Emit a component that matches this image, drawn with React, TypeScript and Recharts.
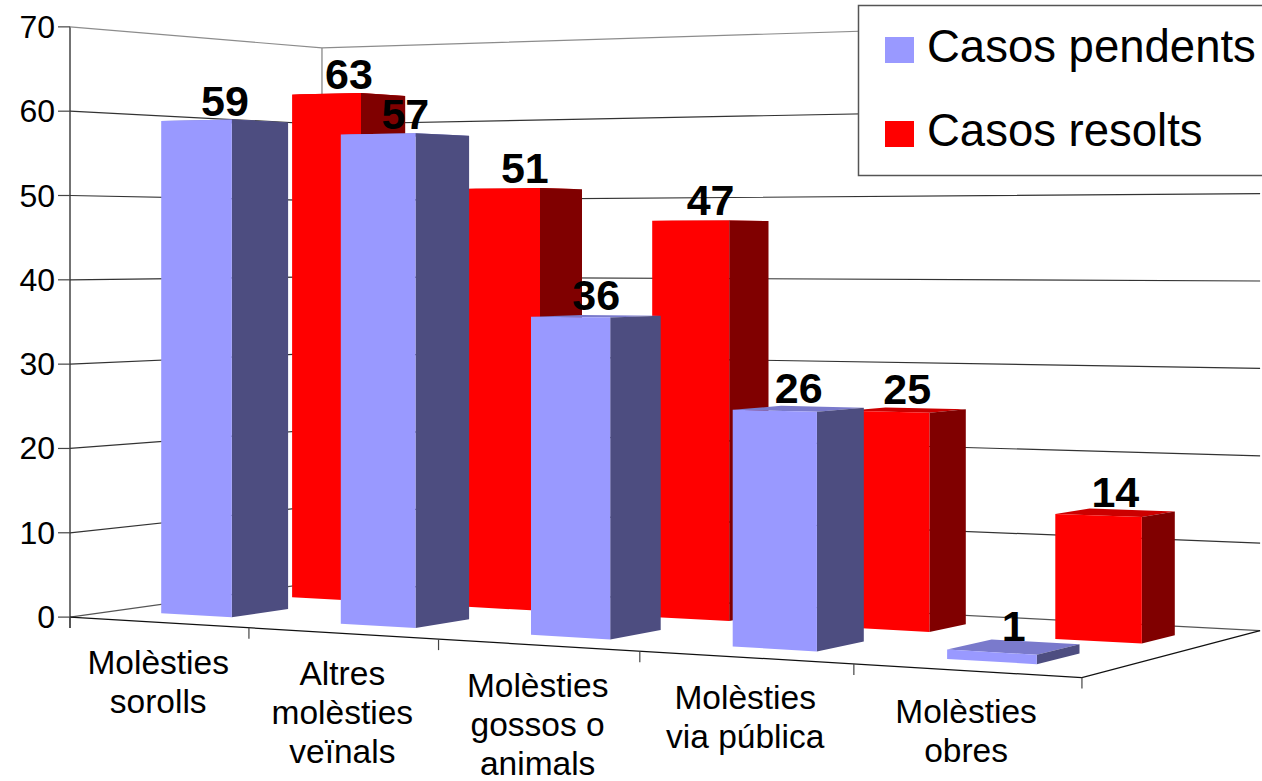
import { BarChart, Bar, XAxis, YAxis, CartesianGrid } from 'recharts'

const categories = [
  'Molèsties\nsorolls',
  'Altres\nmolèsties\nveïnals',
  'Molèsties\ngossos o\nanimals',
  'Molèsties\nvia pública',
  'Molèsties\nobres',
]
const pendents = [59, 57, 36, 26, 1]
const resolts = [63, 51, 47, 25, 14]
const seriesNames = ['Casos pendents', 'Casos resolts']
const yTicks = [0, 10, 20, 30, 40, 50, 60, 70]

const data = categories.map((name, i) => ({ name, pendents: pendents[i], resolts: resolts[i] }))

const W = 1262
const H = 781
const PLOT_H = H - 1 // the x axis keeps 1px
const Y_MAX = 70
const FONT = '"Liberation Sans", Arial, sans-serif'

// camera of the 3d box: u runs across the categories, d is depth (0 front, 1 back wall), v is the value
function project(u: number, d: number, v: number) {
  const den = 1 - 0.1408 * u + 0.1054 * d
  return {
    x: (70 + 859.6 * u + 285.9 * d) / den,
    y: 248.2 - (8.432 / den) * (v - 43.75),
  }
}

const pt = (u: number, d: number, v: number) => {
  const p = project(u, d, v)
  return `${p.x.toFixed(1)},${p.y.toFixed(1)}`
}

function makeBox(front: string, side: string, top: string, d0: number, d1: number) {
  return (props: any) => {
    const { x, width, height } = props
    if (x == null || !width || height == null) return <g />
    const u0 = x / W
    const u1 = (x + width) / W
    const v = (height / PLOT_H) * Y_MAX
    const c = project((u0 + u1) / 2, (d0 + d1) / 2, v)
    const value = Array.isArray(props.value) ? props.value[1] : props.value
    return (
      <g>
        <polygon points={[pt(u0, d0, v), pt(u1, d0, v), pt(u1, d1, v), pt(u0, d1, v)].join(' ')} fill={top} />
        <polygon points={[pt(u1, d0, 0), pt(u1, d1, 0), pt(u1, d1, v), pt(u1, d0, v)].join(' ')} fill={side} />
        <polygon points={[pt(u0, d0, 0), pt(u1, d0, 0), pt(u1, d0, v), pt(u0, d0, v)].join(' ')} fill={front} />
        <text
          x={c.x}
          y={c.y - 6}
          textAnchor="middle"
          fontSize={43}
          fontWeight="bold"
          fontFamily={FONT}
          fill="#000"
        >
          {value}
        </text>
      </g>
    )
  }
}

const PendentBox = makeBox('#9999ff', '#4d4d80', '#7a7acc', 0.17, 0.39)
const ResoltBox = makeBox('#ff0000', '#800000', '#cc0000', 0.63, 0.82)

function GridLine(props: any) {
  const v = Math.round(((PLOT_H - props.y1) / PLOT_H) * Y_MAX)
  const key = `h-${props.index}`
  if (!yTicks.includes(v)) return <g key={key} />
  const a = project(0, 0, v)
  const b = project(0, 1, v)
  const c = project(1, 1, v)
  const n = categories.length
  return (
    <g key={key}>
      <polyline
        points={`${a.x},${a.y} ${b.x},${b.y} ${c.x},${c.y}`}
        fill="none"
        stroke={v === Y_MAX ? '#8c8c8c' : v === 0 ? '#555' : '#333'}
        strokeWidth={1.2}
      />
      <line x1={a.x - 12} y1={a.y} x2={a.x} y2={a.y} stroke="#444" strokeWidth={1.2} />
      <text x={a.x - 15} y={a.y + 11} textAnchor="end" fontSize={32} fontFamily={FONT} fill="#000">
        {v}
      </text>
      {v === 0 && (
        <g>
          <line
            x1={b.x}
            y1={b.y}
            x2={project(0, 1, Y_MAX).x}
            y2={project(0, 1, Y_MAX).y}
            stroke="#999"
            strokeWidth={1.5}
          />
          <line x1={a.x} y1={a.y + 11} x2={a.x} y2={project(0, 0, Y_MAX).y} stroke="#444" strokeWidth={1.5} />
          <polyline
            points={[pt(0, 0, 0), pt(1, 0, 0), pt(1, 1, 0)].join(' ')}
            fill="none"
            stroke="#111"
            strokeWidth={1.2}
          />
          {Array.from({ length: n + 1 }, (_, i) => {
            const p = project(i / n, 0, 0)
            return <line key={i} x1={p.x} y1={p.y} x2={p.x} y2={p.y + 11} stroke="#444" strokeWidth={1.2} />
          })}
        </g>
      )}
    </g>
  )
}

function CategoryTick(props: any) {
  const { x, payload } = props
  const p = project(x / W, 0, 0)
  const lines = String(payload.value).split('\n')
  return (
    <text x={p.x} y={p.y + 52} textAnchor="middle" fontSize={33.5} fontFamily={FONT} fill="#000">
      {lines.map((l, i) => (
        <tspan key={i} x={p.x} dy={i === 0 ? 0 : 39}>
          {l}
        </tspan>
      ))}
    </text>
  )
}

export default function App() {
  const legendColors = ['#9999ff', '#ff0000']
  return (
    <div style={{ position: 'absolute', left: 0, top: 0, width: W, height: H, background: '#fff' }}>
      <BarChart
        width={W}
        height={H}
        data={data}
        margin={{ top: 0, right: 0, bottom: 0, left: 0 }}
        barSize={101}
        barGap={-122}
      >
        <CartesianGrid horizontal={GridLine} vertical={false} syncWithTicks />
        <XAxis
          dataKey="name"
          height={1}
          axisLine={false}
          tickLine={false}
          interval={0}
          tick={CategoryTick}
        />
        <YAxis hide domain={[0, Y_MAX]} ticks={yTicks} interval={0} />
        <Bar dataKey="resolts" name={seriesNames[1]} fill="#ff0000" shape={ResoltBox} isAnimationActive={false} />
        <Bar dataKey="pendents" name={seriesNames[0]} fill="#9999ff" shape={PendentBox} isAnimationActive={false} />
      </BarChart>
      <svg
        width={W}
        height={H}
        style={{ position: 'absolute', left: 0, top: 0, pointerEvents: 'none' }}
      >
        <rect x={858.5} y={5.5} width={430} height={170} fill="#fff" stroke="#555" strokeWidth={1.5} />
        {seriesNames.map((name, i) => (
          <g key={name}>
            <rect x={885} y={37 + i * 84} width={29} height={26} fill={legendColors[i]} />
            <text x={927} y={62 + i * 84} fontSize={45.5} fontFamily={FONT} fill="#000">
              {name}
            </text>
          </g>
        ))}
      </svg>
    </div>
  )
}
